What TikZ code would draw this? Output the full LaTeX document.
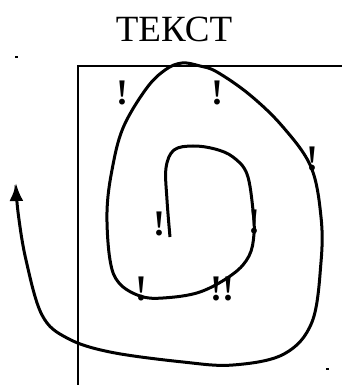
\documentclass[tikz,border=0pt]{standalone}
\usepackage{fontspec}
\setmainfont{Liberation Serif}
\usetikzlibrary{arrows.meta}

\begin{document}
\begin{tikzpicture}[
    x=1pt, y=-1pt,
    >={Latex[length=18pt, width=14pt]},
    frame/.style={line width=2pt},
    spiral/.style={line width=3pt, ->},
    heading/.style={
        font=\fontsize{37}{40}\selectfont,
        anchor=base,
        inner sep=0pt
    },
    exclaim/.style={
        font=\fontsize{36}{40}\selectfont\bfseries,
        anchor=base,
        inner sep=0pt
    },
    speck/.style={fill=black, minimum width=3pt, minimum height=2.5pt, inner sep=0pt}
]
\useasboundingbox (0,0) rectangle (342,385);

\node[heading] (title) at (174,42) {ТЕКСТ};

\node[speck] (speckA) at (16,57) {};
\node[speck] (speckB) at (327,369) {};

\coordinate (frameBL) at (78,385);
\coordinate (frameTL) at (78,66);
\coordinate (frameTR) at (342,66);
\draw[frame] (frameBL) -- (frameTL) -- (frameTR);

\draw[spiral] plot[smooth, tension=0.6] coordinates {
    (170,237) (167,200) (166,168) (174,150) (193,146) (215,149) (233,157)
    (247,174) (253,210) (254,234) (249,256) (233,274) (200,292) (163,298)
    (140,296) (119,283) (110,260) (107,212) (112,170) (123,128) (146,89)
    (165,70) (182,63) (200,66) (217,72) (250,95) (283,127) (311,167)
    (321,217) (321,262) (312,322) (284,354) (233,365) (183,362) (110,352)
    (67,338) (42,315) (26,260) (18,212) (16,183)
};

\node[exclaim] (markA) at (122,105) {!};
\node[exclaim] (markB) at (217,105) {!};
\node[exclaim] (markC) at (312,170) {!};
\node[exclaim] (markD) at (159,235) {!};
\node[exclaim] (markE) at (254,233) {!};
\node[exclaim] (markF) at (141,300) {!};
\node[exclaim] (markG) at (222,300) {!!};

\end{tikzpicture}
\end{document}
